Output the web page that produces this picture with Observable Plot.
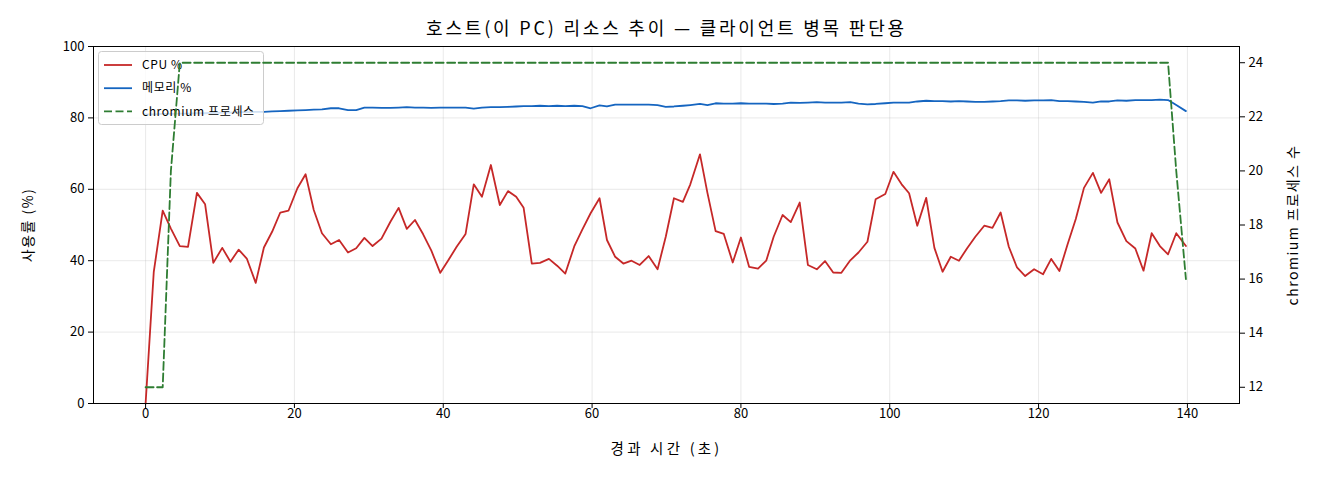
<!DOCTYPE html>
<html><head><meta charset="utf-8">
<script src="https://cdn.jsdelivr.net/npm/d3@7"></script>
<script src="https://cdn.jsdelivr.net/npm/@observablehq/plot@0.6"></script>
<style>body{margin:0;background:#fff}#chart{width:1320px;height:480px}</style>
</head><body><div id="chart"></div>
<script>
const title = "호스트(이 PC) 리소스 추이 — 클라이언트 병목 판단용";
const xLabel = "경과 시간 (초)";
const yLabel = "사용률 (%)";
const y2Label = "chromium 프로세스 수";
const legendLabels = ["CPU %", "메모리 %", "chromium 프로세스"];

const times = [0.0,1.1,2.3,3.4,4.6,5.7,6.9,8.0,9.1,10.3,11.4,12.5,13.6,14.8,15.9,17.0,18.1,19.2,20.4,21.5,
22.6,23.7,24.9,26.0,27.2,28.3,29.4,30.5,31.7,32.9,34.0,35.1,36.2,37.3,38.4,39.6,40.7,41.8,43.0,44.1,
45.2,46.4,47.6,48.7,49.8,50.8,51.9,53.0,54.2,55.3,56.4,57.6,58.7,59.8,61.0,62.0,63.1,64.2,65.3,66.4,
67.6,68.8,69.9,71.0,72.2,73.2,74.5,75.5,76.6,77.7,78.9,80.0,81.1,82.3,83.4,84.4,85.6,86.7,87.9,89.0,
90.2,91.3,92.4,93.5,94.7,95.8,97.0,98.1,99.4,100.5,101.6,102.6,103.7,104.9,106.0,107.1,108.2,109.3,110.4,111.5,
112.7,113.8,114.9,116.0,117.1,118.2,119.4,120.6,121.7,122.8,123.9,125.0,126.1,127.3,128.4,129.5,130.6,131.8,133.0,134.1,
135.2,136.3,137.4,138.5,139.8];

const cpu = [0,36.9,54.0,49.0,44.1,43.9,59.0,55.8,39.4,43.6,39.7,43.1,40.6,33.8,43.7,48.1,53.5,54.0,60.3,64.2,
54.2,47.7,44.6,45.8,42.3,43.5,46.4,44.1,46.2,50.9,54.8,48.9,51.4,47.4,42.8,36.6,40.2,43.9,47.5,61.4,
57.9,66.8,55.6,59.5,57.9,54.8,39.2,39.4,40.5,38.6,36.4,44.0,48.8,53.3,57.5,45.8,41.1,39.2,40.0,38.8,
41.3,37.6,46.7,57.5,56.5,61.4,69.8,59.0,48.3,47.5,39.5,46.5,38.3,37.8,40.0,46.7,52.8,50.8,56.3,38.8,
37.6,39.9,36.7,36.6,40.1,42.3,45.3,57.2,58.7,64.9,61.4,58.9,49.8,57.6,43.6,36.9,41.1,40.0,43.5,46.7,
49.8,49.2,53.5,43.9,38.1,35.7,37.6,36.2,40.5,37.1,44.6,51.7,60.4,64.6,59.0,62.8,50.7,45.5,43.4,37.2,
47.7,44.1,41.8,47.7,44.1];

const memory = [81.0,81.0,81.1,81.1,81.2,81.2,81.3,81.3,81.4,81.5,81.5,81.6,81.6,81.7,81.7,81.8,81.9,82.0,82.1,82.2,
82.3,82.4,82.7,82.7,82.2,82.2,82.9,82.9,82.8,82.8,82.9,83.0,82.9,82.9,82.8,82.9,82.9,82.9,82.9,82.6,
82.9,83.0,83.0,83.1,83.2,83.3,83.3,83.4,83.3,83.4,83.3,83.4,83.3,82.7,83.5,83.2,83.7,83.7,83.7,83.7,
83.7,83.6,83.1,83.2,83.4,83.6,83.9,83.6,84.1,84.0,84.0,84.1,84.0,84.0,84.0,83.9,84.0,84.3,84.2,84.3,
84.4,84.3,84.3,84.3,84.4,84.0,83.8,83.9,84.1,84.3,84.3,84.3,84.6,84.8,84.7,84.7,84.6,84.7,84.6,84.5,
84.5,84.6,84.7,84.9,84.9,84.8,84.9,84.9,85.0,84.7,84.7,84.6,84.5,84.3,84.6,84.6,84.9,84.8,85.0,85.0,
85.0,85.1,85.0,83.6,81.9];

const chromium = [12,12,12,20,24,24,24,24,24,24,24,24,24,24,24,24,24,24,24,24,
24,24,24,24,24,24,24,24,24,24,24,24,24,24,24,24,24,24,24,24,
24,24,24,24,24,24,24,24,24,24,24,24,24,24,24,24,24,24,24,24,
24,24,24,24,24,24,24,24,24,24,24,24,24,24,24,24,24,24,24,24,
24,24,24,24,24,24,24,24,24,24,24,24,24,24,24,24,24,24,24,24,
24,24,24,24,24,24,24,24,24,24,24,24,24,24,24,24,24,24,24,24,
24,24,24,20,16];

const xTicks = [0,20,40,60,80,100,120,140];
const yTicks = [0,20,40,60,80,100];
const y2Ticks = [12,14,16,18,20,22,24];
const xDomain = [-7, 147];
const yDomain = [0, 100];
const y2Domain = [11.4, 24.6];

const RED = "#c62828", BLUE = "#1565c0", GREEN = "#2e7d32";
const FONT = "'Noto Sans CJK KR', 'Noto Sans', sans-serif";

const toLeft = v => (v - y2Domain[0]) / (y2Domain[1] - y2Domain[0]) * (yDomain[1] - yDomain[0]) + yDomain[0];
const fromLeft = d => (d - yDomain[0]) / (yDomain[1] - yDomain[0]) * (y2Domain[1] - y2Domain[0]) + y2Domain[0];

const rows = times.map((t, i) => ({t, cpu: cpu[i], mem: memory[i], chr: toLeft(chromium[i])}));

const gridStyle = {stroke: "#b0b0b0", strokeOpacity: 0.35, strokeWidth: 0.8};

const chart = Plot.plot({
  width: 1320, height: 480,
  marginLeft: 93, marginRight: 81, marginTop: 46, marginBottom: 77,
  style: {fontFamily: FONT, fontSize: "13px", background: "white", color: "black", overflow: "visible"},
  x: {domain: xDomain},
  y: {domain: yDomain},
  marks: [
    Plot.gridX(xTicks, gridStyle),
    Plot.gridY(yTicks, gridStyle),
    Plot.line(rows, {x: "t", y: "cpu", stroke: RED, strokeWidth: 1.8}),
    Plot.line(rows, {x: "t", y: "mem", stroke: BLUE, strokeWidth: 1.8}),
    Plot.line(rows, {x: "t", y: "chr", stroke: GREEN, strokeWidth: 1.8, strokeDasharray: "8,3.5"}),
    Plot.frame({stroke: "black", strokeWidth: 1}),
    Plot.axisX(xTicks, {tickSize: 5, tickPadding: 0, label: xLabel, labelAnchor: "center", labelOffset: 50, labelArrow: false}),
    Plot.axisY(yTicks, {anchor: "left", tickSize: 5, tickPadding: 4, label: yLabel, labelAnchor: "center", labelOffset: 70, labelArrow: false}),
    Plot.axisY(y2Ticks.map(toLeft), {anchor: "right", tickSize: 5, tickPadding: 4, tickFormat: d => String(Math.round(fromLeft(d))), label: y2Label, labelAnchor: "center", labelOffset: 58, labelArrow: false}),
    Plot.text([title], {frameAnchor: "top", lineAnchor: "middle", dy: -17, fontSize: 18, text: d => d, fill: "black"})
  ]
});

const svg = d3.select(chart);
// wider label lettering, as in the reference
svg.selectAll("text").each(function() {
  const t = this.textContent;
  const s = d3.select(this);
  if (t === title) s.attr("letter-spacing", "2.8px");
  else if (t === xLabel) s.attr("font-size", "14.5px").attr("letter-spacing", "3.2px");
  else if (t === yLabel || t === y2Label) s.attr("font-size", "14px").attr("letter-spacing", "1.5px");
});

// legend (placed under the twin-axis green line, as in the reference)
const lineGroups = svg.selectAll('g[aria-label="line"]').nodes();
const lg = d3.create("svg:g").attr("font-family", FONT).attr("font-size", "12px").attr("text-anchor", "start");
if (lineGroups.length >= 3) lineGroups[2].parentNode.insertBefore(lg.node(), lineGroups[2]);
else chart.appendChild(lg.node());
lg.append("rect").attr("x", 98.5).attr("y", 51.5).attr("width", 165).attr("height", 73)
  .attr("rx", 3).attr("fill", "white").attr("fill-opacity", 0.8).attr("stroke", "#cccccc").attr("stroke-width", 1);
const legendColors = [RED, BLUE, GREEN];
legendLabels.forEach((lab, i) => {
  const yy = 65 + i * 23.2;
  lg.append("line").attr("x1", 104).attr("x2", 132).attr("y1", yy).attr("y2", yy)
    .attr("stroke", legendColors[i]).attr("stroke-width", 1.8)
    .attr("stroke-dasharray", i === 2 ? "8,3.5" : null);
  lg.append("text").attr("x", 142).attr("y", yy).attr("dy", "0.35em").attr("fill", "black")
    .attr("letter-spacing", "0.6px").attr("text-anchor", "start").text(lab);
});

document.getElementById("chart").appendChild(chart);
</script>
</body></html>
